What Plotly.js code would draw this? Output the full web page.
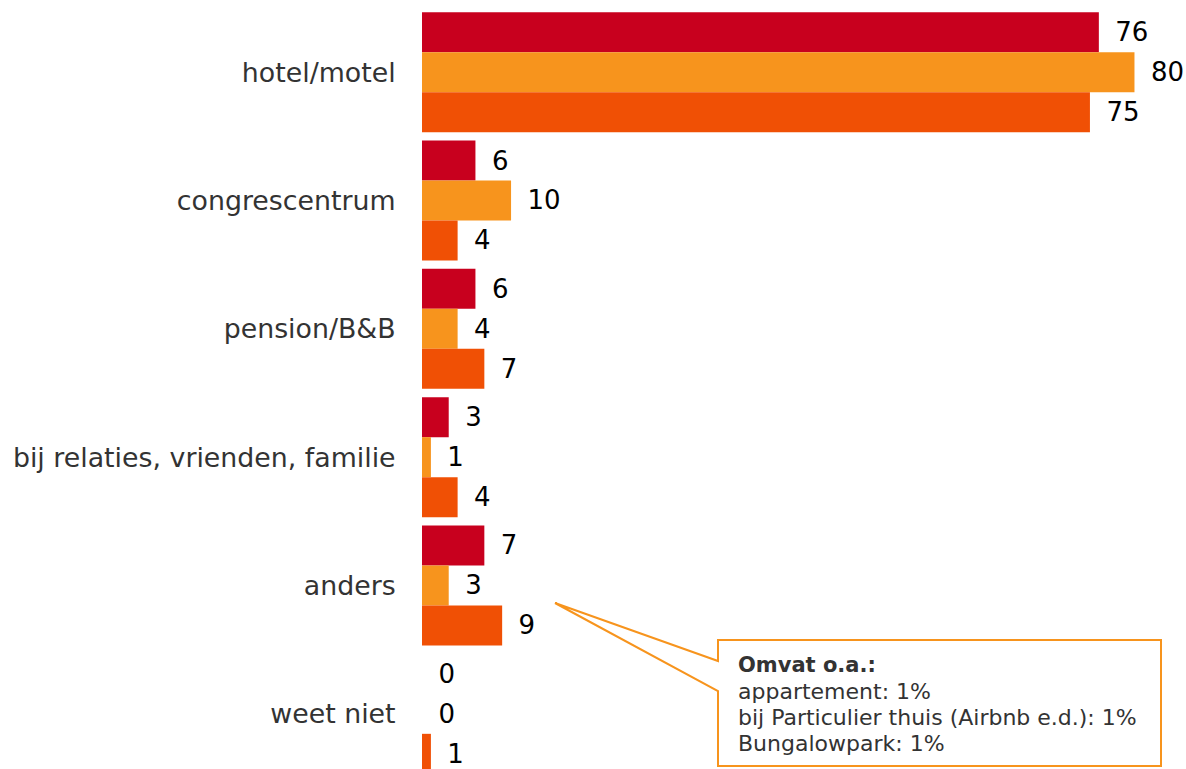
<!DOCTYPE html>
<html>
<head>
<meta charset="utf-8">
<script src="https://cdn.plot.ly/plotly-3.0.1.min.js"></script>
<style>html,body{margin:0;padding:0;background:#fff;}</style>
</head>
<body>
<div id="chart" style="width:1186px;height:769px;"></div>
<script>
const categories = ["hotel/motel", "congrescentrum", "pension/B&B", "bij relaties, vrienden, familie", "anders", "weet niet"];
const series1 = [76, 6, 6, 3, 7, 0];
const series2 = [80, 10, 4, 1, 3, 0];
const series3 = [75, 4, 7, 4, 9, 1];
const seriesNames = ["reeks 1", "reeks 2", "reeks 3"];
const seriesColors = ["#C8001E", "#F7941D", "#F05005"];
const calloutTitle = "Omvat o.a.:";
const calloutLines = ["appartement: 1%", "bij Particulier thuis (Airbnb e.d.): 1%", "Bungalowpark: 1%"];

const W = 1186, H = 769;
const plotL = 422, plotR = 1179, plotT = 8, plotB = 769;
const px = x => (x - plotL) / (plotR - plotL);
const py = y => 1 - (y - plotT) / (plotB - plotT);
const FAM = "DejaVu Sans, Verdana, sans-serif";

const valueFont = {family: FAM, size: 26, color: "#000000"};
const traces = [series1, series2, series3].map((vals, i) => ({
  type: "bar",
  orientation: "h",
  name: seriesNames[i],
  y: categories,
  x: vals,
  marker: {color: seriesColors[i], line: {width: 0}},
  text: vals.map(v => "\u00a0\u2009" + v),
  textposition: "outside",
  textfont: valueFont,
  cliponaxis: false,
  hoverinfo: "x+y"
}));

const p = [[718,640],[1161,640],[1161,766],[718,766],[718,691],[555,603],[718,661]];
const path = "M " + p.map(q => px(q[0]).toFixed(5) + "," + py(q[1]).toFixed(5)).join(" L ") + " Z";

const calloutText = ["<b>" + calloutTitle + "</b>"].concat(calloutLines);
const lineY = [665, 691, 717, 743];
const annotations = calloutText.map((t, i) => ({
  xref: "paper", yref: "paper", x: px(736), y: py(lineY[i]),
  xanchor: "left", yanchor: "middle", align: "left", showarrow: false,
  text: t,
  font: {family: FAM, size: i === 0 ? 21 : 22, color: "#333333"}
}));

const layout = {
  width: W, height: H,
  margin: {l: plotL, r: W - plotR, t: plotT, b: H - plotB, pad: 0},
  paper_bgcolor: "#ffffff",
  plot_bgcolor: "#ffffff",
  barmode: "group",
  bargap: 0.065,
  bargroupgap: 0,
  showlegend: false,
  font: {family: FAM, size: 22, color: "#333333"},
  xaxis: {range: [0, 85], visible: false, fixedrange: true},
  yaxis: {
    type: "category",
    range: [5.43, -0.5],
    showgrid: false, zeroline: false, showline: false,
    ticks: "outside", ticklen: 20, tickcolor: "rgba(0,0,0,0)",
    tickfont: {family: FAM, size: 26.8, color: "#333333"},
    fixedrange: true
  },
  shapes: [{
    type: "path", xref: "paper", yref: "paper", path: path,
    fillcolor: "#ffffff", line: {color: "#F7941D", width: 2}, layer: "above"
  }],
  annotations: annotations
};

Plotly.newPlot("chart", traces, layout, {displayModeBar: false, staticPlot: true});
</script>
</body>
</html>
